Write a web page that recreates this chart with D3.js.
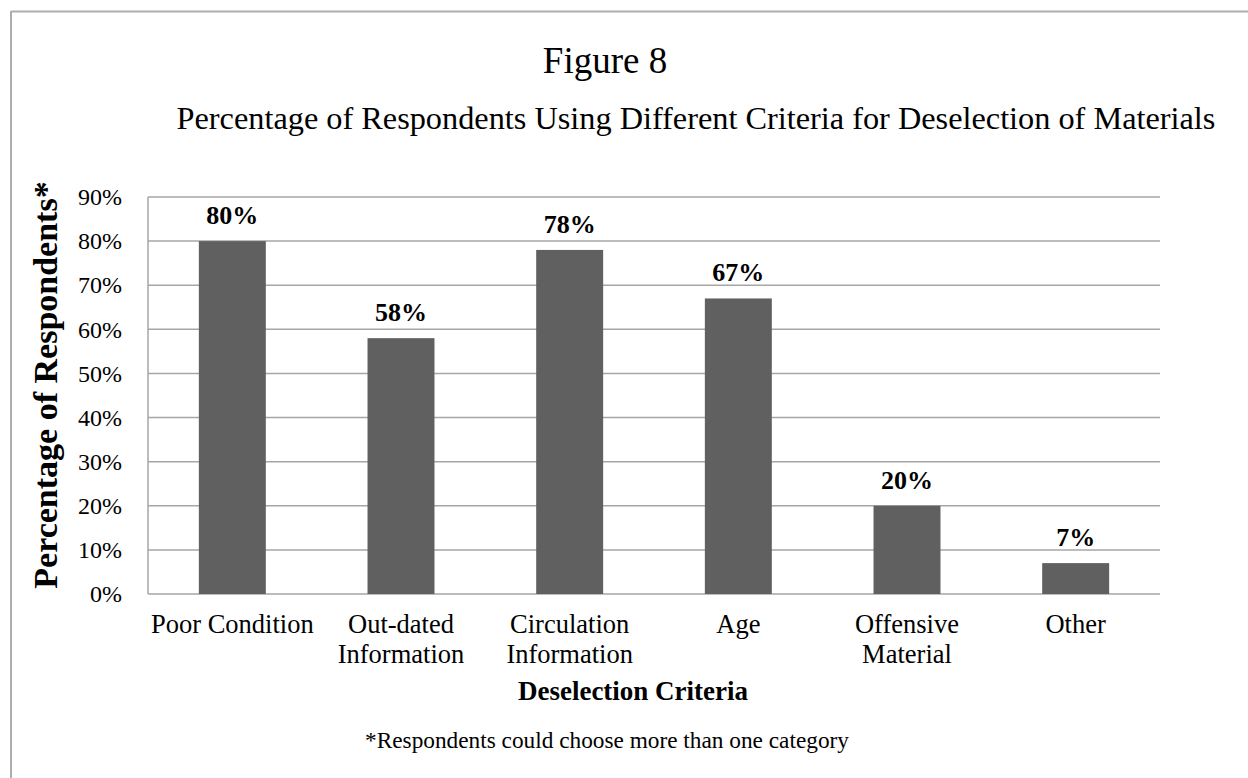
<!DOCTYPE html>
<html>
<head>
<meta charset="utf-8">
<script src="https://cdn.jsdelivr.net/npm/d3@7"></script>
<style>
  html, body { margin: 0; padding: 0; background: #fff; }
  svg { display: block; font-family: "Liberation Serif", "Times New Roman", serif; }
</style>
</head>
<body>
<svg id="chart" width="1248" height="778"></svg>
<script>
const categories = [["Poor Condition"], ["Out-dated", "Information"], ["Circulation", "Information"], ["Age"], ["Offensive", "Material"], ["Other"]];
const values = [80, 58, 78, 67, 20, 7];
const yTicks = [0, 10, 20, 30, 40, 50, 60, 70, 80, 90];

const titleText = "Figure 8";
const subtitleText = "Percentage of Respondents Using Different Criteria for Deselection of Materials";
const xTitle = "Deselection Criteria";
const yTitle = "Percentage of Respondents*";
const footnote = "*Respondents could choose more than one category";

const svg = d3.select("#chart");
const W = 1248, H = 778;
const m = { left: 148, right: 1160, top: 197, bottom: 594 };

// outer border (top and left visible)
svg.append("line").attr("x1", 11).attr("x2", W).attr("y1", 11.5).attr("y2", 11.5)
  .attr("stroke", "#adadad").attr("stroke-width", 2);
svg.append("line").attr("x1", 11).attr("x2", 11).attr("y1", 11).attr("y2", H)
  .attr("stroke", "#adadad").attr("stroke-width", 2);

const x = d3.scaleBand().domain(d3.range(categories.length)).range([m.left, m.right]).paddingInner(0.603).paddingOuter(0.3015);
const y = d3.scaleLinear().domain([0, 90]).range([m.bottom, m.top]);

// gridlines
svg.append("g").selectAll("line").data(yTicks).join("line")
  .attr("x1", m.left).attr("x2", m.right)
  .attr("y1", d => y(d)).attr("y2", d => y(d))
  .attr("stroke", "#a6a6a6").attr("stroke-width", 1.5);

// left axis line
svg.append("line").attr("x1", m.left).attr("x2", m.left).attr("y1", m.top).attr("y2", m.bottom)
  .attr("stroke", "#a6a6a6").attr("stroke-width", 1.5);

// y axis labels via d3 axis
const yAxis = d3.axisLeft(y).tickValues(yTicks).tickFormat(d => d + "%").tickSize(0).tickPadding(26);
const yg = svg.append("g").attr("transform", `translate(${m.left},0)`).call(yAxis);
yg.select(".domain").remove();
yg.selectAll("text").attr("font-size", 24).attr("font-family", "Liberation Serif").attr("fill", "#000");

// bars
svg.append("g").selectAll("rect").data(values).join("rect")
  .attr("x", (d, i) => x(i)).attr("width", x.bandwidth())
  .attr("y", d => y(d)).attr("height", d => y(0) - y(d))
  .attr("fill", "#606060");

// data labels
svg.append("g").selectAll("text").data(values).join("text")
  .attr("x", (d, i) => x(i) + x.bandwidth() / 2)
  .attr("y", d => y(d) - 17)
  .attr("text-anchor", "middle").attr("font-weight", "bold").attr("font-size", 26)
  .text(d => d + "%");

// category labels
const cg = svg.append("g").selectAll("text").data(categories).join("text")
  .attr("x", (d, i) => x(i) + x.bandwidth() / 2)
  .attr("y", 633)
  .attr("text-anchor", "middle").attr("font-size", 26.5);
cg.selectAll("tspan").data(d => d).join("tspan")
  .attr("x", function () { return d3.select(this.parentNode).attr("x"); })
  .attr("dy", (d, i) => i === 0 ? 0 : 30)
  .text(d => d);

// titles
svg.append("text").attr("x", 605).attr("y", 73).attr("text-anchor", "middle").attr("font-size", 37).text(titleText);
svg.append("text").attr("x", 696).attr("y", 129).attr("text-anchor", "middle").attr("font-size", 32.3).text(subtitleText);
svg.append("text").attr("x", 633).attr("y", 700).attr("text-anchor", "middle").attr("font-size", 27).attr("font-weight", "bold").text(xTitle);
svg.append("text").attr("transform", "translate(57,385) rotate(-90)").attr("text-anchor", "middle")
  .attr("font-size", 34).attr("font-weight", "bold").text(yTitle);
svg.append("text").attr("x", 607).attr("y", 748).attr("text-anchor", "middle").attr("font-size", 23.3).text(footnote);
</script>
</body>
</html>
